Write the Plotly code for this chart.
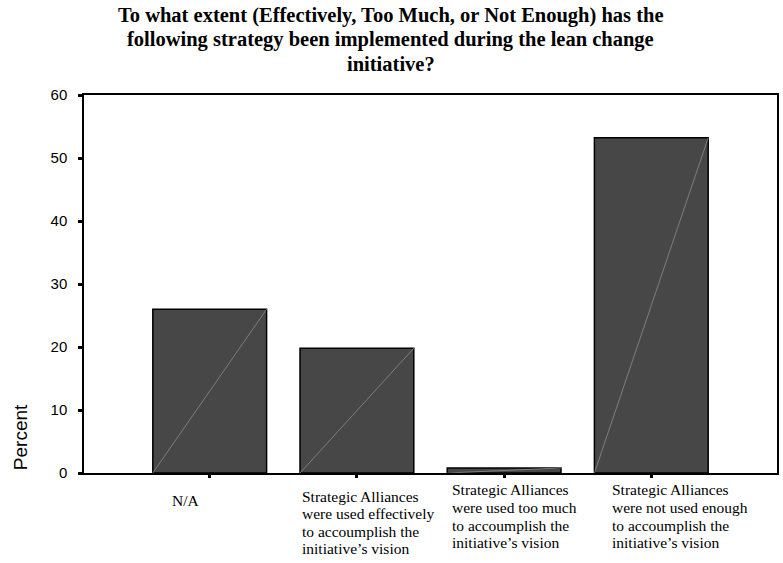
import plotly.graph_objects as go

# Survey responses (percent of respondents)
categories = [
    ["N/A"],
    ["Strategic Alliances", "were used effectively", "to accoumplish the", "initiative\u2019s vision"],
    ["Strategic Alliances", "were used too much", "to accoumplish the", "initiative\u2019s vision"],
    ["Strategic Alliances", "were not used enough", "to accoumplish the", "initiative\u2019s vision"],
]
percent = [26.0, 19.8, 0.8, 53.2]
y_ticks = [0, 10, 20, 30, 40, 50, 60]

title_lines = [
    "To what extent (Effectively, Too Much, or Not Enough) has the",
    "following strategy been implemented during the lean change",
    "initiative?",
]

# Style settings
W, H = 783, 563
M_L, M_R, M_T, M_B = 84, 4, 95, 90
BAR_WIDTH = 0.773
BAR_FILL = "#474747"
SERIF = "Liberation Serif, Times New Roman, serif"
SANS = "Liberation Sans, Arial, sans-serif"
label_shift = [-0.271, -0.390, -0.366, -0.281]  # left edge of each label block, relative to its bar
label_top = [500, 496, 490, 490]                # pixel row of each block's first line
LABEL_STEP = 17.5                               # pixel spacing between label lines
TITLE_TOP = 16
TITLE_STEP = 24

plot_h = H - M_T - M_B
plot_w = W - M_L - M_R


def py(pixel_row):
    """Pixel row (from top of the page) -> paper y coordinate."""
    return (H - M_B - pixel_row) / plot_h


def px(pixel_col):
    """Pixel column -> paper x coordinate."""
    return (pixel_col - M_L) / plot_w


idx = list(range(len(categories)))

fig = go.Figure()
fig.add_trace(go.Bar(
    x=idx, y=percent, width=BAR_WIDTH,
    marker=dict(color=BAR_FILL, line=dict(color="#000000", width=1.5)),
    hoverinfo="y", showlegend=False,
))

# Thin diagonal stroke across each bar, corner to corner
for i, v in zip(idx, percent):
    fig.add_trace(go.Scatter(
        x=[i - BAR_WIDTH / 2, i + BAR_WIDTH / 2], y=[0, v],
        mode="lines", line=dict(color="#8c8c8c", width=0.8),
        hoverinfo="skip", showlegend=False,
    ))

# Category labels, left-aligned blocks under the bars
for i, (lines, dx, top) in enumerate(zip(categories, label_shift, label_top)):
    for k, line in enumerate(lines):
        fig.add_annotation(
            x=i + dx, y=py(top + k * LABEL_STEP), xref="x", yref="paper",
            xanchor="left", yanchor="middle", align="left", showarrow=False,
            text=line, font=dict(family=SERIF, size=15.5, color="#000"),
        )

# Title, centred on the page
for k, line in enumerate(title_lines):
    fig.add_annotation(
        x=px(W / 2), y=py(TITLE_TOP + k * TITLE_STEP), xref="paper", yref="paper",
        xanchor="center", yanchor="middle", showarrow=False,
        text="<b>" + line + "</b>", font=dict(family=SERIF, size=20.5, color="#000"),
    )

# Y axis title
fig.add_annotation(
    x=px(20), y=py(437), xref="paper", yref="paper", textangle=-90,
    xanchor="center", yanchor="middle", showarrow=False, text="Percent",
    font=dict(family=SANS, size=19, color="#000"),
)

fig.update_layout(
    width=W, height=H,
    margin=dict(l=M_L, r=M_R, t=M_T, b=M_B),
    paper_bgcolor="#ffffff", plot_bgcolor="#ffffff",
    bargap=1 - BAR_WIDTH,
    xaxis=dict(
        range=[-0.854, 3.854], tickvals=idx, showticklabels=False,
        ticks="outside", ticklen=3, tickwidth=3, tickcolor="#000",
        showline=True, linecolor="#000", linewidth=1.5, mirror=True,
        showgrid=False, zeroline=False, fixedrange=True,
    ),
    yaxis=dict(
        range=[0, 60], tickvals=y_ticks,
        ticks="outside", ticklen=4, tickwidth=3, tickcolor="#000",
        ticklabelstandoff=8,
        tickfont=dict(family=SANS, size=15, color="#000"),
        showline=True, linecolor="#000", linewidth=1.5, mirror=True,
        showgrid=False, zeroline=False, fixedrange=True,
    ),
)

fig.write_html("out.html")
